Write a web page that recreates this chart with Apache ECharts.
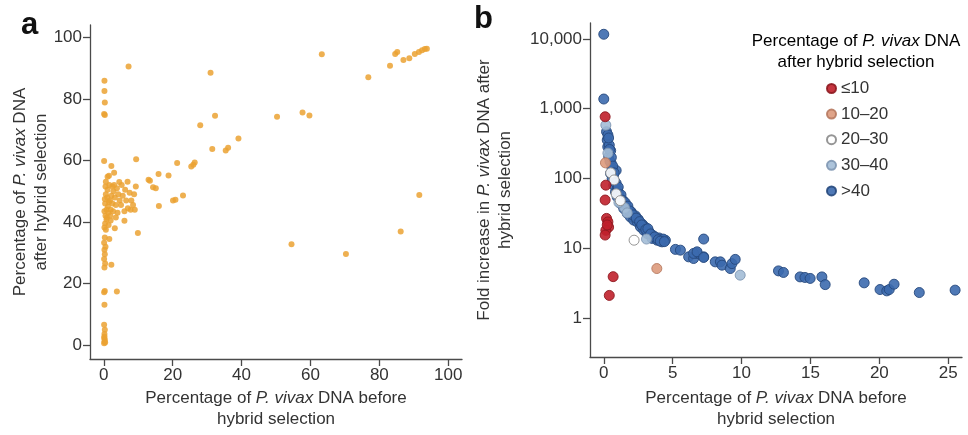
<!DOCTYPE html>
<html>
<head>
<meta charset="utf-8">
<script src="https://cdn.jsdelivr.net/npm/echarts@6/dist/echarts.min.js"></script>
<style>
  html, body { margin: 0; padding: 0; background: #fff; }
  #chart { width: 968px; height: 435px; }
</style>
</head>
<body>
<div id="chart"></div>
<script>
// panel a: % P. vivax DNA before vs after hybrid selection
const aPoints = [
  [7.2, 90.5], [31, 88.5], [63.3, 94.5], [76.8, 87], [83.1, 90.8], [84.6, 94.6], [85.2, 95.2],
  [87, 92.6], [88.7, 93.2], [90.3, 94.6], [91.5, 95.2], [92.4, 95.8], [93.2, 96.2], [93.8, 96.3],
  [91.6, 48.8], [86.2, 36.9], [70.3, 29.6], [54.5, 32.8], [50.3, 74.2], [57.7, 75.6], [59.7, 74.6],
  [32.3, 74.5], [28, 71.4], [39.1, 67.1], [31.5, 63.7], [35.4, 63.2], [36.1, 64.1], [25.4, 58],
  [26.4, 59.3], [26, 58.6], [21.3, 59.2], [18.8, 55.1], [15.9, 55.6], [13, 53.7], [13.4, 53.4],
  [14.3, 51.3], [15.1, 51], [16, 45.2], [20.1, 47], [20.8, 47.2], [23, 48.6], [9.9, 36.4],
  [9.4, 60.4], [6, 40.4], [3.8, 17.4], [2.2, 26.1], [3.2, 38], [1.6, 34.5],
  [0.2, 85.9], [0.2, 82.6], [0.3, 78.8], [0.1, 75.1], [0.3, 74.8], [0.1, 59.8], [0.3, 17.6],
  [0.1, 17.2], [0.2, 13.1], [0.1, 6.6], [0.3, 5], [0.2, 3.6], [0.1, 2.3], [0.3, 1.8], [0.2, 1.2],
  [0.1, 0.6], [0.4, 0.9], [0.2, 2.8],
  [0.2, 25.2], [0.4, 26.5], [0.1, 28], [0.3, 29.5], [0.2, 31], [0.5, 32], [0.1, 33.3], [0.3, 35],
  [0.6, 37.5], [0.2, 38.2], [0.4, 39.5], [0.8, 40.8],
  [0.5, 42], [0.2, 43.5], [0.8, 44], [1.2, 45], [0.4, 46], [1.5, 46.5], [0.3, 47.5], [1, 48],
  [0.6, 49], [1.8, 47], [2.2, 48.5], [2.5, 46], [1.1, 50.5], [0.5, 51.5], [1.6, 52], [2.8, 50],
  [3.2, 48], [3.5, 45.5], [2, 44], [1.3, 43], [2.7, 43.5], [3, 52], [3.8, 51], [4.2, 49],
  [4.6, 47], [5, 45.5], [5.5, 48.5], [6.2, 50.5], [6.9, 53.1], [7.5, 49.5], [8, 47], [8.5, 45.5],
  [9, 44], [7, 44.5], [6, 43.5], [4, 43], [9.3, 51.5], [8.8, 49], [2.5, 51.5], [1.1, 54.7],
  [0.6, 53.1], [3, 56], [2.2, 58.2], [1.5, 55], [4.5, 53], [5.2, 52], [7.8, 44], [3.5, 41.5],
  [2, 40.5], [1.4, 39], [0.9, 41.5], [6.5, 47], [1.9, 42]
];
const aTicks = [0, 20, 40, 60, 80, 100];

// panel b: fold increase vs % before, grouped by % after selection
const bGroups = ['≤10', '10–20', '20–30', '30–40', '>40'];
const bLe10 = [
  [0.1, 765], [0.15, 80], [0.1, 49], [0.2, 26.7], [0.3, 23.8], [0.35, 20], [0.15, 18],
  [0.1, 15.4], [0.25, 21.5], [0.68, 3.9], [0.4, 2.1]
];
const b10to20 = [[0.12, 167], [3.85, 5.1]];
const b20to30 = [[2.2, 13], [0.5, 120], [0.9, 60], [1.2, 48], [0.75, 95]];
const b30to40 = [[0.15, 580], [9.9, 4.1], [1.5, 38], [1.7, 32], [3.1, 13.5], [0.3, 230], [1.1, 45]];
const bGt40 = [
  [0, 11650], [0, 1374], [0.2, 467], [0.25, 355], [0.29, 284], [0.36, 204], [0.54, 164],
  [0.49, 118], [0.61, 100], [0.72, 80], [0.85, 64], [0.97, 54.5], [1.21, 43.8], [1.45, 37],
  [1.7, 31.5], [1.93, 28], [2.17, 25.2], [2.42, 23.8], [2.66, 20.2], [2.9, 18.1], [3.14, 16.2],
  [3.5, 13.8], [3.87, 13], [4.23, 12.3], [4.47, 13], [5.2, 9.6], [5.56, 9.36], [6.16, 7.5],
  [6.52, 7.1], [6.77, 8.4], [7.25, 7.5], [7.25, 13.5], [6.52, 8.4], [6.77, 8.85], [7.25, 7.35],
  [8.09, 6.36], [8.46, 6.36], [8.58, 5.7], [9.18, 5.1], [9.3, 6.0], [9.54, 6.9], [12.68, 4.72],
  [13.04, 4.48], [14.25, 3.87], [14.6, 3.8], [14.98, 3.68], [15.83, 3.87], [16.07, 3.0],
  [18.9, 3.18], [20.05, 2.55], [20.54, 2.44], [20.72, 2.55], [21.07, 3.04], [22.9, 2.31],
  [25.5, 2.5],
  [0.3, 420], [0.4, 300], [0.5, 250], [0.45, 175], [0.7, 110], [0.8, 90], [1.0, 70], [1.1, 60],
  [1.3, 50], [1.6, 42], [1.8, 36], [2.0, 33], [2.3, 29], [2.5, 26], [2.8, 22], [3.0, 20],
  [3.3, 17], [3.6, 15], [4.0, 14], [4.3, 13.5], [0.9, 130], [0.6, 140],
  [0.35, 380], [0.42, 260], [0.55, 200], [0.65, 150], [0.75, 120], [0.9, 85], [1.05, 75],
  [1.25, 58], [1.4, 48], [1.55, 45], [1.75, 40], [1.9, 34], [2.1, 30], [2.35, 27], [2.6, 24],
  [2.75, 21.5], [3.05, 18.5], [3.2, 19], [3.4, 16], [3.7, 14.5], [3.95, 13.2], [4.1, 12.6],
  [4.4, 12.4]
];
const bXTicks = [0, 5, 10, 15, 20, 25];
const bYTicks = [1, 10, 100, 1000, 10000];
const bYLabels = ['1', '10', '100', '1,000', '10,000'];

const FONT = '"Liberation Sans", Arial, sans-serif';
const TXT = '#333';
const AXIS = '#4a4a4a';

const rich = {
  n: { fontSize: 17, color: TXT, fontFamily: FONT, lineHeight: 21 },
  i: { fontSize: 17, color: TXT, fontFamily: FONT, lineHeight: 21, fontStyle: 'italic' }
};

const axisBase = (ticks, formatter) => ({
  type: 'value',
  splitLine: { show: false },
  axisLine: { show: true, onZero: false, lineStyle: { color: AXIS, width: 1.3 } },
  axisTick: { show: true, length: 7, customValues: ticks, lineStyle: { color: AXIS, width: 1.3 } },
  axisLabel: { customValues: ticks, color: TXT, fontSize: 17, fontFamily: FONT, formatter },
  nameLocation: 'middle',
  nameTextStyle: { rich }
});

const styleOf = (fill, border) => ({ color: fill, borderColor: border, borderWidth: 1, opacity: 0.9 });

const chart = echarts.init(document.getElementById('chart'));

chart.setOption({
  animation: false,
  grid: [
    { left: 90, top: 25, width: 372, height: 334 },
    { left: 590, top: 23, width: 372, height: 334 }
  ],
  xAxis: [
    Object.assign(axisBase(aTicks), {
      gridIndex: 0, min: -4, max: 104,
      name: '{n|Percentage of }{i|P. vivax}{n| DNA before}\n{n|hybrid selection}',
      nameGap: 29
    }),
    Object.assign(axisBase(bXTicks), {
      gridIndex: 1, min: -1, max: 26,
      name: '{n|Percentage of }{i|P. vivax}{n| DNA before}\n{n|hybrid selection}',
      nameGap: 31
    })
  ],
  yAxis: [
    Object.assign(axisBase(aTicks), {
      gridIndex: 0, min: -4.5, max: 104,
      name: '{n|Percentage of }{i|P. vivax}{n| DNA}\n{n|after hybrid selection}',
      nameGap: 36
    }),
    Object.assign(axisBase(bYTicks, v => bYLabels[bYTicks.indexOf(v)] ?? ''), {
      type: 'log', logBase: 10,
      gridIndex: 1, min: 0.275, max: 16900,
      name: '{n|Fold increase in }{i|P. vivax}{n| DNA after}\n{n|hybrid selection}',
      nameGap: 74
    })
  ],
  legend: {
    data: bGroups,
    orient: 'vertical',
    left: 821,
    top: 75,
    itemWidth: 9,
    itemHeight: 9,
    itemGap: 8.6,
    icon: 'circle',
    textStyle: { fontSize: 17, color: TXT, fontFamily: FONT }
  },
  graphic: [
    { type: 'text', left: 21, top: 10, style: { text: 'a', font: 'bold 31px ' + FONT, fill: '#111' } },
    { type: 'text', left: 474, top: 4, style: { text: 'b', font: 'bold 31px ' + FONT, fill: '#111' } },
    {
      type: 'text', x: 856, y: 31,
      style: {
        text: '{n|Percentage of }{i|P. vivax}{n| DNA}\n{n|after hybrid selection}',
        rich, align: 'center', verticalAlign: 'top'
      }
    }
  ],
  series: [
    {
      type: 'scatter', xAxisIndex: 0, yAxisIndex: 0, data: aPoints, symbolSize: 6,
      itemStyle: { color: '#EBA232', opacity: 0.85 }
    },
    { name: '>40', type: 'scatter', xAxisIndex: 1, yAxisIndex: 1, data: bGt40, symbolSize: 10,
      itemStyle: styleOf('#3C6AAE', '#26487c') },
    { name: '30–40', type: 'scatter', xAxisIndex: 1, yAxisIndex: 1, data: b30to40, symbolSize: 10,
      itemStyle: styleOf('#A3BCD6', '#7f97b2') },
    { name: '20–30', type: 'scatter', xAxisIndex: 1, yAxisIndex: 1, data: b20to30, symbolSize: 10,
      itemStyle: styleOf('#FFFFFF', '#8a8a8a') },
    { name: '10–20', type: 'scatter', xAxisIndex: 1, yAxisIndex: 1, data: b10to20, symbolSize: 10,
      itemStyle: styleOf('#DD9A7C', '#b77a60') },
    { name: '≤10', type: 'scatter', xAxisIndex: 1, yAxisIndex: 1, data: bLe10, symbolSize: 10,
      itemStyle: styleOf('#C0202B', '#8e1a20') }
  ]
});
</script>
</body>
</html>
